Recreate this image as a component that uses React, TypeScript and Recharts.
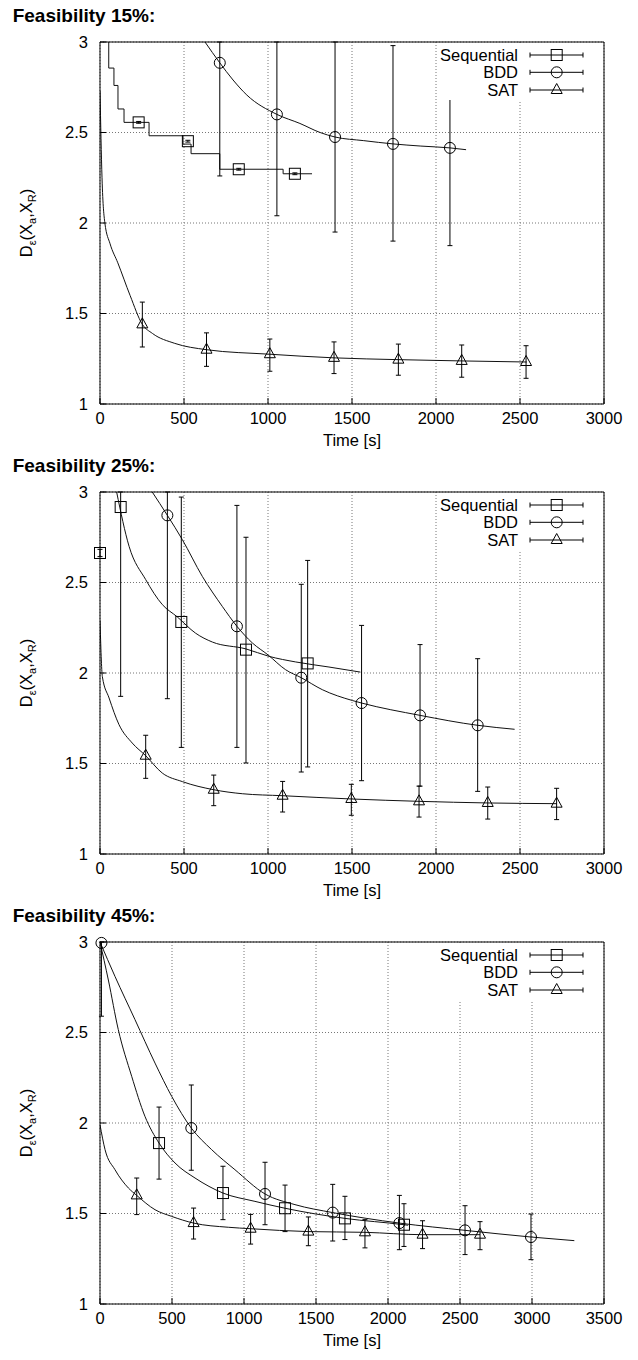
import React from "react";
import {
  CartesianGrid,
  ComposedChart,
  ErrorBar,
  Line,
  Scatter,
  XAxis,
  YAxis,
} from "recharts";

const FONT = "'Liberation Sans', Arial, Helvetica, sans-serif";

// ---- shared labels / ticks ----
const seriesNames = ["Sequential", "BDD", "SAT"];
const yTicks = [1, 1.5, 2, 2.5, 3];
const xTicks3000 = [0, 500, 1000, 1500, 2000, 2500, 3000];
const xTicks3500 = [0, 500, 1000, 1500, 2000, 2500, 3000, 3500];

// ---- Feasibility 15% ----
const seqT15 = [230, 523, 826, 1160];
const seqV15 = [2.556, 2.452, 2.297, 2.272];
const seqLo15 = [2.551, 2.447, 2.292, 2.267];
const seqHi15 = [2.561, 2.457, 2.302, 2.277];
const seqLineT15 = [30, 52, 83, 107, 143, 292, 494, 542, 713, 1090, 1262];
const seqLineV15 = [3.1, 2.856, 2.76, 2.63, 2.556, 2.482, 2.436, 2.383, 2.297, 2.272, 2.272];

const bddT15 = [713, 1053, 1399, 1744, 2083];
const bddV15 = [2.885, 2.6, 2.475, 2.437, 2.415];
const bddLo15 = [2.26, 2.04, 1.95, 1.9, 1.875];
const bddHi15 = [3.5, 3.5, 3.5, 2.98, 2.955];
const bddLineT15 = [625, 713, 792, 874, 1053, 1190, 1310, 1399, 1570, 1744, 1910, 2083, 2179];
const bddLineV15 = [3.0, 2.885, 2.79, 2.707, 2.6, 2.55, 2.5, 2.475, 2.455, 2.437, 2.425, 2.415, 2.405];

const satT15 = [252, 634, 1011, 1393, 1776, 2153, 2536];
const satV15 = [1.44, 1.3, 1.275, 1.255, 1.245, 1.238, 1.232];
const satLo15 = [1.315, 1.208, 1.181, 1.168, 1.159, 1.148, 1.142];
const satHi15 = [1.563, 1.393, 1.359, 1.343, 1.331, 1.326, 1.322];
const satLineT15 = [0, 12, 29, 60, 106, 179, 252, 312, 445, 634, 1011, 1393, 1776, 2153, 2540];
const satLineV15 = [2.73, 2.25, 2.0, 1.885, 1.78, 1.6, 1.44, 1.39, 1.335, 1.3, 1.275, 1.255, 1.245, 1.238, 1.232];

// ---- Feasibility 25% ----
const seqT25 = [0, 123, 484, 869, 1236];
const seqV25 = [2.663, 2.917, 2.282, 2.129, 2.053];
const seqLo25 = [2.643, 1.871, 1.589, 1.503, 1.481];
const seqHi25 = [2.683, 3.5, 2.972, 2.75, 2.622];
const seqLineT25 = [99, 173, 272, 371, 460, 569, 669, 869, 1006, 1165, 1363, 1550];
const seqLineV25 = [3.0, 2.7, 2.516, 2.378, 2.31, 2.22, 2.171, 2.133, 2.092, 2.061, 2.033, 2.005];

const bddT25 = [401, 815, 1198, 1557, 1905, 2248];
const bddV25 = [2.871, 2.258, 1.974, 1.834, 1.766, 1.711];
const bddLo25 = [1.858, 1.589, 1.453, 1.405, 1.375, 1.346];
const bddHi25 = [3.5, 2.926, 2.49, 2.263, 2.157, 2.079];
const bddLineT25 = [311, 401, 490, 609, 728, 815, 907, 1000, 1105, 1198, 1323, 1502, 1557, 1905, 2248, 2468];
const bddLineV25 = [3.0, 2.871, 2.737, 2.534, 2.368, 2.258, 2.166, 2.1, 2.018, 1.974, 1.908, 1.848, 1.834, 1.766, 1.711, 1.689];

const satT25 = [272, 677, 1087, 1496, 1899, 2308, 2718];
const satV25 = [1.543, 1.355, 1.322, 1.304, 1.291, 1.282, 1.278];
const satLo25 = [1.418, 1.267, 1.232, 1.214, 1.204, 1.193, 1.19];
const satHi25 = [1.656, 1.436, 1.401, 1.385, 1.375, 1.37, 1.363];
const satLineT25 = [0, 14, 54, 113, 192, 272, 371, 490, 677, 847, 1087, 1496, 1899, 2308, 2718];
const satLineV25 = [2.29, 1.98, 1.862, 1.715, 1.613, 1.543, 1.447, 1.4, 1.355, 1.333, 1.322, 1.304, 1.291, 1.282, 1.278];

// ---- Feasibility 45% ----
const seqT45 = [410, 854, 1285, 1701, 2111];
const seqV45 = [1.889, 1.613, 1.529, 1.473, 1.438];
const seqLo45 = [1.69, 1.466, 1.4, 1.356, 1.318];
const seqHi45 = [2.088, 1.761, 1.657, 1.595, 1.554];
const seqLineT45 = [0, 58, 127, 220, 312, 410, 521, 660, 854, 1076, 1285, 1701, 2111, 2140];
const seqLineV45 = [3.0, 2.79, 2.516, 2.258, 2.037, 1.889, 1.779, 1.696, 1.613, 1.567, 1.529, 1.473, 1.438, 1.435];

const bddT45 = [10, 634, 1146, 1616, 2079, 2535, 2993];
const bddV45 = [2.995, 1.972, 1.608, 1.505, 1.447, 1.407, 1.37];
const bddLo45 = [2.59, 1.739, 1.438, 1.348, 1.3, 1.273, 1.245];
const bddHi45 = [3.3, 2.21, 1.783, 1.661, 1.6, 1.543, 1.497];
const bddLineT45 = [0, 104, 243, 382, 498, 634, 775, 937, 1146, 1354, 1616, 2079, 2535, 2993, 3294];
const bddLineV45 = [3.0, 2.81, 2.571, 2.331, 2.147, 1.972, 1.853, 1.742, 1.608, 1.549, 1.505, 1.447, 1.407, 1.37, 1.35];

const satT45 = [255, 650, 1046, 1447, 1840, 2240, 2639];
const satV45 = [1.6, 1.447, 1.416, 1.4, 1.396, 1.383, 1.383];
const satLo45 = [1.494, 1.359, 1.331, 1.322, 1.31, 1.306, 1.3];
const satHi45 = [1.696, 1.53, 1.495, 1.481, 1.466, 1.46, 1.455];
const satLineT45 = [0, 35, 104, 197, 255, 382, 498, 650, 891, 1046, 1447, 1840, 2240, 2639];
const satLineV45 = [1.99, 1.853, 1.742, 1.641, 1.6, 1.521, 1.484, 1.447, 1.424, 1.416, 1.4, 1.396, 1.383, 1.383];

const Y_MIN = 1;
const Y_MAX = 3;

type Pt = { t: number; v: number; err?: [number, number] };

// error bars are cut at the plot border, like the original
function marks(t: number[], v: number[], lo: number[], hi: number[]): Pt[] {
  return t.map((x, i) => ({
    t: x,
    v: v[i],
    err: [v[i] - Math.max(lo[i], Y_MIN), Math.min(hi[i], Y_MAX) - v[i]],
  }));
}
function curve(t: number[], v: number[]): Pt[] {
  return t.map((x, i) => ({ t: x, v: v[i] }));
}

// ---- layout ----
const W = 622;
const H = 450;
const PLOT = { left: 92, right: 596, top: 34, bottom: 396 };
const INK = "#000";

function SquareMark({ cx, cy }: any) {
  return <rect x={cx - 5.5} y={cy - 5.5} width={11} height={11} fill="none" stroke={INK} strokeWidth={1} />;
}
function CircleMark({ cx, cy }: any) {
  return <circle cx={cx} cy={cy} r={5.5} fill="none" stroke={INK} strokeWidth={1} />;
}
function TriangleMark({ cx, cy }: any) {
  return (
    <polygon
      points={`${cx},${cy - 6.5} ${cx + 5.5},${cy + 3.5} ${cx - 5.5},${cy + 3.5}`}
      fill="none"
      stroke={INK}
      strokeWidth={1}
    />
  );
}
const shapes = [SquareMark, CircleMark, TriangleMark];

function Overlay({ title }: { title: string }) {
  const rowY = [47, 64.3, 82];
  return (
    <svg
      width={W}
      height={H}
      style={{ position: "absolute", left: 0, top: 0, pointerEvents: "none", overflow: "visible" }}
      fontFamily={FONT}
    >
      <text x={4.7} y={14} fontSize={19} fontWeight="bold" fill={INK}>
        {title}
      </text>
      {/* key box */}
      <rect x={429} y={PLOT.top + 1} width={PLOT.right - 429 - 1} height={92 - PLOT.top - 1} fill="#fff" />
      {seriesNames.map((name, i) => {
        const Mark = shapes[i];
        const y = rowY[i];
        return (
          <g key={name}>
            <text x={510} y={y + 5.8} fontSize={16.5} textAnchor="end" fill={INK}>
              {name}
            </text>
            <line x1={522} y1={y} x2={575} y2={y} stroke={INK} />
            <line x1={522} y1={y - 2.5} x2={522} y2={y + 2.5} stroke={INK} />
            <line x1={575} y1={y - 2.5} x2={575} y2={y + 2.5} stroke={INK} />
            <Mark cx={548.7} cy={y} />
          </g>
        );
      })}
      {/* axis titles */}
      <text
        transform={`translate(23.7, ${(PLOT.top + PLOT.bottom) / 2}) rotate(-90)`}
        textAnchor="middle"
        fontSize={16.5}
        fill={INK}
      >
        D<tspan fontSize={11} dy={4}>ε</tspan>
        <tspan dy={-4}>(X</tspan>
        <tspan fontSize={11} dy={4}>a</tspan>
        <tspan dy={-4}>,X</tspan>
        <tspan fontSize={11} dy={4}>R</tspan>
        <tspan dy={-4}>)</tspan>
      </text>
      <text x={(PLOT.left + PLOT.right) / 2} y={438} textAnchor="middle" fontSize={16.5} fill={INK}>
        Time [s]
      </text>
    </svg>
  );
}

type PanelProps = {
  title: string;
  xTicks: number[];
  seq: Pt[];
  bdd: Pt[];
  sat: Pt[];
  seqLine: Pt[];
  bddLine: Pt[];
  satLine: Pt[];
  seqStep?: boolean;
};

function Panel({ title, xTicks, seq, bdd, sat, seqLine, bddLine, satLine, seqStep }: PanelProps) {
  const xMax = xTicks[xTicks.length - 1];
  const tickStyle = { fill: INK, fontSize: 16.5, fontFamily: FONT };
  const lineProps = { dataKey: "v", stroke: "#111", strokeWidth: 1, dot: false, isAnimationActive: false } as const;
  return (
    <div style={{ position: "relative", width: W, height: H }}>
      <ComposedChart
        width={W}
        height={H}
        margin={{ top: PLOT.top - 1, right: W - PLOT.right - 1, bottom: 0, left: 0 }}
      >
        <CartesianGrid stroke="#777" strokeDasharray="1 2" />
        {/* bottom / left axes clip the curves at the border */}
        <XAxis
          dataKey="t"
          type="number"
          domain={[0, xMax]}
          ticks={xTicks}
          interval={0}
          allowDataOverflow
          height={H - PLOT.bottom}
          tickSize={-6}
          tickMargin={14}
          axisLine={{ stroke: INK }}
          tickLine={{ stroke: INK }}
          tick={tickStyle}
        />
        <YAxis
          type="number"
          domain={[Y_MIN, Y_MAX]}
          ticks={yTicks}
          interval={0}
          allowDataOverflow
          width={PLOT.left}
          tickSize={-6}
          tickMargin={18}
          axisLine={{ stroke: INK }}
          tickLine={{ stroke: INK }}
          tick={tickStyle}
        />
        {/* mirror axes: same scale, no clipping, used by the point marks */}
        <XAxis
          xAxisId="top"
          orientation="top"
          dataKey="t"
          type="number"
          domain={[0, xMax]}
          ticks={xTicks}
          interval={0}
          height={1}
          tickSize={-6}
          axisLine={{ stroke: INK }}
          tickLine={{ stroke: INK }}
          tick={false}
        />
        <YAxis
          yAxisId="right"
          orientation="right"
          type="number"
          domain={[Y_MIN, Y_MAX]}
          ticks={yTicks}
          interval={0}
          width={1}
          tickSize={-6}
          axisLine={{ stroke: INK }}
          tickLine={{ stroke: INK }}
          tick={false}
        />

        <Line data={seqLine} type={seqStep ? "stepAfter" : "monotone"} {...lineProps} />
        <Line data={bddLine} type="monotone" {...lineProps} />
        <Line data={satLine} type="monotone" {...lineProps} />

        <Scatter xAxisId="top" yAxisId="right" data={seq} dataKey="v" shape={SquareMark} isAnimationActive={false}>
          <ErrorBar dataKey="err" direction="y" width={2.5} stroke={INK} strokeWidth={1} />
        </Scatter>
        <Scatter xAxisId="top" yAxisId="right" data={bdd} dataKey="v" shape={CircleMark} isAnimationActive={false}>
          <ErrorBar dataKey="err" direction="y" width={2.5} stroke={INK} strokeWidth={1} />
        </Scatter>
        <Scatter xAxisId="top" yAxisId="right" data={sat} dataKey="v" shape={TriangleMark} isAnimationActive={false}>
          <ErrorBar dataKey="err" direction="y" width={2.5} stroke={INK} strokeWidth={1} />
        </Scatter>
      </ComposedChart>
      <Overlay title={title} />
    </div>
  );
}

export default function App() {
  return (
    <div style={{ width: W, background: "#fff" }}>
      <Panel
        title="Feasibility 15%:"
        xTicks={xTicks3000}
        seq={marks(seqT15, seqV15, seqLo15, seqHi15)}
        bdd={marks(bddT15, bddV15, bddLo15, bddHi15)}
        sat={marks(satT15, satV15, satLo15, satHi15)}
        seqLine={curve(seqLineT15, seqLineV15)}
        bddLine={curve(bddLineT15, bddLineV15)}
        satLine={curve(satLineT15, satLineV15)}
        seqStep
      />
      <Panel
        title="Feasibility 25%:"
        xTicks={xTicks3000}
        seq={marks(seqT25, seqV25, seqLo25, seqHi25)}
        bdd={marks(bddT25, bddV25, bddLo25, bddHi25)}
        sat={marks(satT25, satV25, satLo25, satHi25)}
        seqLine={curve(seqLineT25, seqLineV25)}
        bddLine={curve(bddLineT25, bddLineV25)}
        satLine={curve(satLineT25, satLineV25)}
      />
      <Panel
        title="Feasibility 45%:"
        xTicks={xTicks3500}
        seq={marks(seqT45, seqV45, seqLo45, seqHi45)}
        bdd={marks(bddT45, bddV45, bddLo45, bddHi45)}
        sat={marks(satT45, satV45, satLo45, satHi45)}
        seqLine={curve(seqLineT45, seqLineV45)}
        bddLine={curve(bddLineT45, bddLineV45)}
        satLine={curve(satLineT45, satLineV45)}
      />
    </div>
  );
}
